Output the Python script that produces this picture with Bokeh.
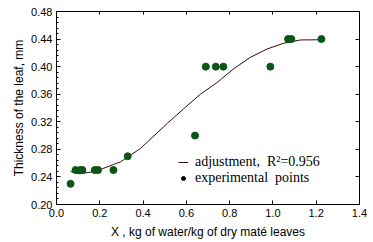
from bokeh.plotting import figure
from bokeh.models import (LinearAxis, Range1d, FixedTicker, PrintfTickFormatter,
                          Legend, LegendItem, Title, CustomLabelingPolicy)
from bokeh.embed import file_html
from bokeh.resources import INLINE

# experimental points
exp_x = [0.065, 0.088, 0.110, 0.120, 0.177, 0.192, 0.263, 0.329, 0.640,
         0.690, 0.736, 0.771, 0.988, 1.070, 1.085, 1.224]
exp_y = [0.23, 0.25, 0.25, 0.25, 0.25, 0.25, 0.25, 0.27, 0.30,
         0.40, 0.40, 0.40, 0.40, 0.44, 0.44, 0.44]

# adjusted curve
fit_x = [0.065, 0.104, 0.180, 0.263, 0.297, 0.389, 0.513, 0.588, 0.665,
         0.742, 0.819, 0.896, 0.973, 1.050, 1.127, 1.224]
fit_y = [0.248, 0.2445, 0.248, 0.258, 0.262, 0.2816, 0.318, 0.339, 0.360,
         0.377, 0.397, 0.4135, 0.4256, 0.434, 0.4387, 0.439]

x_ticks = [0.0, 0.2, 0.4, 0.6, 0.8, 1.0, 1.2, 1.4]
y_ticks = [0.20, 0.24, 0.28, 0.32, 0.36, 0.40, 0.44, 0.48]
y_minor_step = 0.008

x_label = "X , kg of water/kg of dry maté leaves"
y_label = "Thickness of the leaf, mm"
fit_label = "adjustment,  R²=0.956"
exp_label = "experimental  points"

p = figure(width=373, height=242, output_backend="svg", toolbar_location=None,
           x_range=Range1d(0.0, 1.4), y_range=Range1d(0.20, 0.48),
           min_border_left=56, min_border_right=14, min_border_top=11,
           min_border_bottom=38, x_axis_location=None, y_axis_location=None)
p.background_fill_color = "white"
p.border_fill_color = "white"
p.outline_line_color = "black"
p.outline_line_width = 1
p.grid.visible = False

font = "Liberation Sans"
no_labels = CustomLabelingPolicy(code="""
for (const i of indices) { indices.unset(i) }
return indices
""")

def style_axis(ax, labels=True, minor=False):
    ax.axis_line_color = "black"
    ax.major_tick_in = 4
    ax.major_tick_out = 0
    ax.major_tick_line_color = "black"
    if minor:
        ax.minor_tick_in = 2
        ax.minor_tick_out = 0
        ax.minor_tick_line_color = "black"
    else:
        ax.minor_tick_line_color = None
    ax.major_label_text_font = font
    ax.major_label_text_font_size = "11px" if labels else "1px"
    ax.major_label_text_color = "black"
    ax.major_label_standoff = 4 if labels else 0
    if not labels:
        ax.major_label_policy = no_labels

xb = LinearAxis(ticker=FixedTicker(ticks=x_ticks),
                formatter=PrintfTickFormatter(format="%.1f"))
style_axis(xb)
p.add_layout(xb, "below")

x_title = Title(text=x_label, align="center", offset=-14,
                text_font=font, text_font_size="12px", text_font_style="normal",
                text_color="black", standoff=6)
p.add_layout(x_title, "below")

y_minor = [round(y_ticks[0] + y_minor_step * i, 3) for i in range(36)]
yl = LinearAxis(ticker=FixedTicker(ticks=y_ticks, minor_ticks=y_minor),
                formatter=PrintfTickFormatter(format="%.2f"))
style_axis(yl, minor=True)
p.add_layout(yl, "left")

y_title = Title(text=y_label, align="center", offset=-5,
                text_font=font, text_font_size="12px", text_font_style="normal",
                text_color="black", standoff=5)
p.add_layout(y_title, "left")

xt = LinearAxis(ticker=FixedTicker(ticks=x_ticks))
style_axis(xt, labels=False)
xt.major_tick_in = 3
p.add_layout(xt, "above")

yr = LinearAxis(ticker=FixedTicker(ticks=y_ticks))
style_axis(yr, labels=False)
p.add_layout(yr, "right")

fit = p.line(fit_x, fit_y, line_color="#3a0a0a", line_width=1)
# legend proxy: black dot hidden under the first green point
proxy = p.scatter(exp_x[:1], exp_y[:1], size=5, marker="circle",
                  fill_color="black", line_color="black")
p.scatter(exp_x, exp_y, size=7, marker="circle", fill_color="#0b5516",
          line_color="#0b5516")

legend = Legend(items=[LegendItem(label=fit_label, renderers=[fit]),
                       LegendItem(label=exp_label, renderers=[proxy])],
                location=(122, 18), orientation="vertical")
legend.border_line_color = None
legend.background_fill_alpha = 0
legend.label_text_font = "Liberation Serif"
legend.label_text_font_size = "14px"
legend.label_text_color = "black"
legend.glyph_width = 10
legend.glyph_height = 16
legend.label_height = 16
legend.label_standoff = 7
legend.spacing = 0
legend.padding = 0
legend.margin = 0
p.add_layout(legend, "center")

open("out.html", "w").write(file_html(p, INLINE))
